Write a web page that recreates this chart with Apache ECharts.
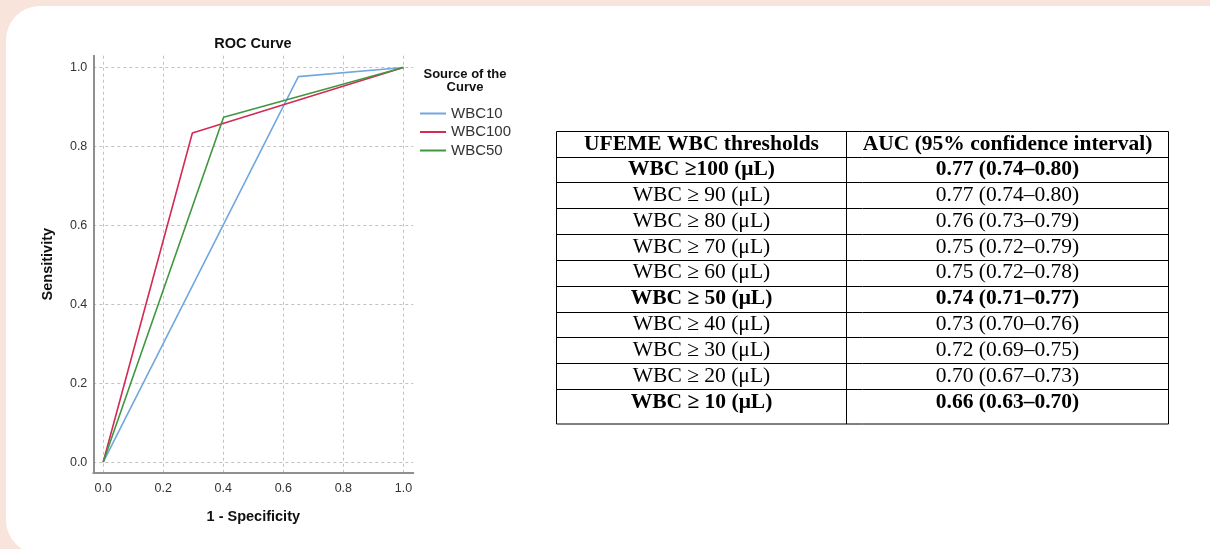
<!DOCTYPE html>
<html>
<head>
<meta charset="utf-8">
<script src="https://cdn.jsdelivr.net/npm/echarts@6/dist/echarts.min.js"></script>
<style>
html,body{margin:0;padding:0;background:#f9e4dc;}
#main{width:1210px;height:549px;}
</style>
</head>
<body>
<div id="main"></div>
<script>
// ---- ROC data (1 - specificity, sensitivity) ----
const seriesNames = ['WBC10', 'WBC100', 'WBC50'];
const wbc10 = [[0, 0], [0.65, 0.977], [1, 1]];
const wbc100 = [[0, 0], [0.297, 0.834], [1, 1]];
const wbc50 = [[0, 0], [0.401, 0.874], [1, 1]];
const tickValues = [0, 0.2, 0.4, 0.6, 0.8, 1.0];

// ---- table data ----
const tableHeader = ['UFEME WBC thresholds', 'AUC (95% confidence interval)'];
const thresholds = ['WBC \u2265100 (\u03bcL)', 'WBC \u2265 90 (\u03bcL)', 'WBC \u2265 80 (\u03bcL)', 'WBC \u2265 70 (\u03bcL)',
  'WBC \u2265 60 (\u03bcL)', 'WBC \u2265 50 (\u03bcL)', 'WBC \u2265 40 (\u03bcL)', 'WBC \u2265 30 (\u03bcL)',
  'WBC \u2265 20 (\u03bcL)', 'WBC \u2265 10 (\u03bcL)'];
const aucLabels = ['0.77 (0.74\u20130.80)', '0.77 (0.74\u20130.80)', '0.76 (0.73\u20130.79)', '0.75 (0.72\u20130.79)',
  '0.75 (0.72\u20130.78)', '0.74 (0.71\u20130.77)', '0.73 (0.70\u20130.76)', '0.72 (0.69\u20130.75)',
  '0.70 (0.67\u20130.73)', '0.66 (0.63\u20130.70)'];
const boldRows = [true, false, false, false, false, true, false, false, false, true];

const colors = ['#72a7de', '#d42a55', '#3f983f'];

// ---- table layout ----
const tX0 = 556.5, tX1 = 846.5, tX2 = 1168.5;
const tTop = 131.5, headH = 25, rowH = 25.85, lastExtra = 9;
const serif = '"Liberation Serif", "Times New Roman", serif';
const tableEls = [];
const nRows = thresholds.length;
const tBottom = tTop + headH + rowH * nRows + lastExtra;
tableEls.push({type: 'rect', shape: {x: tX0, y: tTop, width: tX2 - tX0, height: tBottom - tTop},
  style: {fill: '#fff', stroke: '#000', lineWidth: 1}});
tableEls.push({type: 'line', shape: {x1: tX1, y1: tTop, x2: tX1, y2: tBottom}, style: {stroke: '#000', lineWidth: 1}});
for (let i = 0; i < nRows; i++) {
  const y = Math.round(tTop + headH + rowH * i) + 0.5;
  tableEls.push({type: 'line', shape: {x1: tX0, y1: y, x2: tX2, y2: y}, style: {stroke: '#000', lineWidth: 1}});
}
function cellText(txt, cx, cy, bold) {
  return {type: 'text', x: cx, y: cy, style: {text: txt, fill: '#000', font: (bold ? 'bold ' : '') + '21.5px ' + serif,
    align: 'center', verticalAlign: 'middle'}};
}
tableEls.push(cellText(tableHeader[0], (tX0 + tX1) / 2, tTop + headH / 2 + 0.5, true));
tableEls.push(cellText(tableHeader[1], (tX1 + tX2) / 2, tTop + headH / 2 + 0.5, true));
for (let i = 0; i < nRows; i++) {
  const cy = tTop + headH + rowH * i + rowH / 2;
  tableEls.push(cellText(thresholds[i], (tX0 + tX1) / 2, cy, boldRows[i]));
  tableEls.push(cellText(aucLabels[i], (tX1 + tX2) / 2, cy, boldRows[i]));
}

const sans = '"Liberation Sans", Arial, sans-serif';
const chart = echarts.init(document.getElementById('main'));
chart.setOption({
  backgroundColor: '#f9e4dc',
  animation: false,
  legend: {
    orient: 'vertical', left: 420, top: 106, padding: 0, itemWidth: 26, itemHeight: 2, itemGap: 3.5, icon: 'rect',
    data: seriesNames,
    textStyle: {fontFamily: sans, fontSize: 15, color: '#333', lineHeight: 15}
  },
  grid: {left: 93.3, top: 55.7, width: 320, height: 417, outerBoundsMode: 'none'},
  xAxis: {
    type: 'value', min: -0.033, max: 1.033,
    name: '1 - Specificity', nameLocation: 'middle', nameGap: 37,
    nameTextStyle: {fontFamily: sans, fontSize: 14.5, fontWeight: 'bold', color: '#111'},
    axisLine: {onZero: false, lineStyle: {color: '#8f8f8f', width: 2}},
    axisTick: {show: false, customValues: tickValues},
    axisLabel: {customValues: tickValues, formatter: v => v.toFixed(1), margin: 9,
      fontFamily: sans, fontSize: 12.5, color: '#333'},
    splitLine: {show: true, lineStyle: {color: '#c2c2c2', type: [3, 3], width: 1}}
  },
  yAxis: {
    type: 'value', min: -0.027, max: 1.03,
    name: 'Sensitivity', nameLocation: 'middle', nameGap: 38,
    nameTextStyle: {fontFamily: sans, fontSize: 14.5, fontWeight: 'bold', color: '#111'},
    axisLine: {show: true, onZero: false, lineStyle: {color: '#8f8f8f', width: 2}},
    axisTick: {show: false, customValues: tickValues},
    axisLabel: {customValues: tickValues, formatter: v => v.toFixed(1), margin: 6,
      fontFamily: sans, fontSize: 12.5, color: '#333'},
    splitLine: {show: true, lineStyle: {color: '#c2c2c2', type: [3, 3], width: 1}}
  },
  graphic: [
    {type: 'rect', z: -100, shape: {x: 6, y: 6, width: 1240, height: 548, r: 34}, style: {fill: '#fff'}},
    {type: 'text', x: 253, y: 43.5, style: {text: 'ROC Curve', font: 'bold 14.5px ' + sans, fill: '#111', align: 'center', verticalAlign: 'middle'}},
    {type: 'text', x: 465, y: 74, style: {text: 'Source of the', font: 'bold 13px ' + sans, fill: '#111', align: 'center', verticalAlign: 'middle'}},
    {type: 'text', x: 465, y: 87, style: {text: 'Curve', font: 'bold 13px ' + sans, fill: '#111', align: 'center', verticalAlign: 'middle'}},
    {type: 'group', children: tableEls}
  ],
  series: [
    {name: seriesNames[0], type: 'line', data: wbc10, symbol: 'none', lineStyle: {width: 1.6, color: colors[0]}, itemStyle: {color: colors[0]}},
    {name: seriesNames[1], type: 'line', data: wbc100, symbol: 'none', lineStyle: {width: 1.6, color: colors[1]}, itemStyle: {color: colors[1]}},
    {name: seriesNames[2], type: 'line', data: wbc50, symbol: 'none', lineStyle: {width: 1.6, color: colors[2]}, itemStyle: {color: colors[2]}}
  ]
});
</script>
</body>
</html>
